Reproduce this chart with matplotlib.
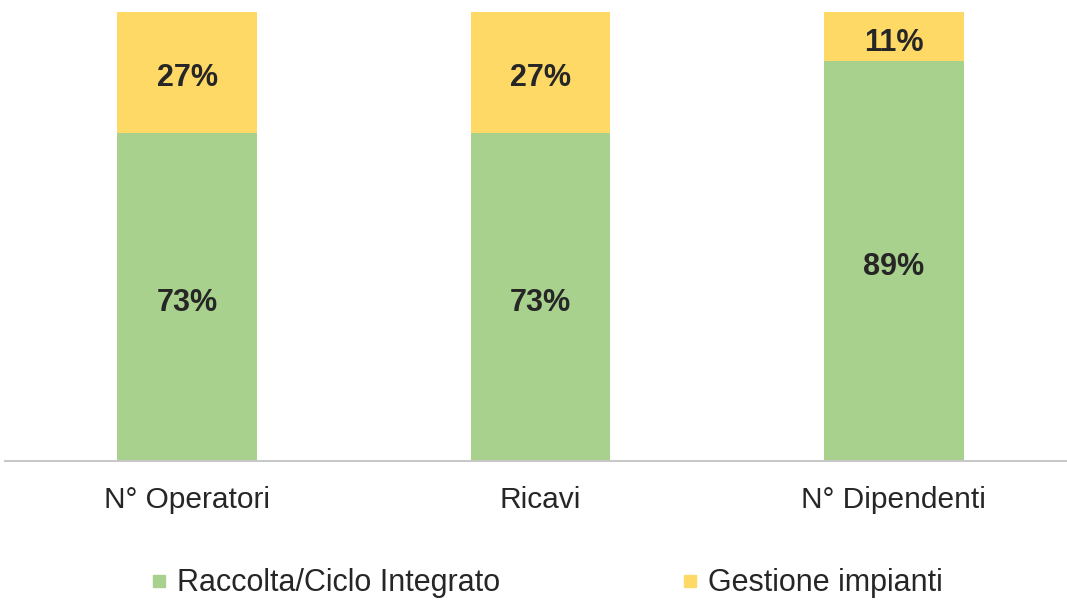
import matplotlib
matplotlib.use('Agg')
import matplotlib.pyplot as plt
from matplotlib.lines import Line2D
import numpy as np

categories = ['N° Operatori', 'Ricavi', 'N° Dipendenti']
raccolta = [73, 73, 89]
impianti = [27, 27, 11]
series_names = ['Raccolta/Ciclo Integrato', 'Gestione impianti']

green = '#A9D18E'
yellow = '#FFD966'
text_col = '#262626'

plt.rcParams['font.family'] = ['Liberation Sans', 'DejaVu Sans']

fig = plt.figure(figsize=(10.67, 6), dpi=100)
ax = fig.add_axes([5 / 1067, 1 - 461 / 600, 1 - 5 / 1067, (461 - 12) / 600])

x = np.arange(len(categories))
width = 0.395
ax.bar(x, raccolta, width, color=green)
ax.bar(x, impianti, width, bottom=raccolta, color=yellow)

# labels sit a touch below the middle of each segment, like in the source
for xi, r, g in zip(x, raccolta, impianti):
    ax.text(xi, r / 2 - 1.2, '%d%%' % r, ha='center', va='center',
            fontsize=22, fontweight='bold', color=text_col)
    ax.text(xi, r + g / 2 - 1.3, '%d%%' % g, ha='center', va='center',
            fontsize=22, fontweight='bold', color=text_col)

ax.set_xlim(-0.515, 2.49)
ax.set_ylim(0, 100)
ax.set_yticks([])
ax.set_xticks(x)
ax.set_xticklabels(categories, fontsize=21.5, color=text_col)
ax.tick_params(axis='x', length=0, pad=18)
for side in ['left', 'right', 'top']:
    ax.spines[side].set_visible(False)
ax.spines['bottom'].set_color('#C8C8C8')
ax.spines['bottom'].set_linewidth(1.5)

handles = [Line2D([], [], marker='s', linestyle='none', markersize=8,
                  markerfacecolor=c, markeredgecolor=c) for c in (green, yellow)]
fig.legend(handles, series_names, loc='center', bbox_to_anchor=(0.512, 0.028),
           ncol=2, frameon=False, fontsize=22, handlelength=0.6,
           handletextpad=0.3, columnspacing=5.9, labelcolor=text_col)

fig.savefig('out.png', dpi=100)
